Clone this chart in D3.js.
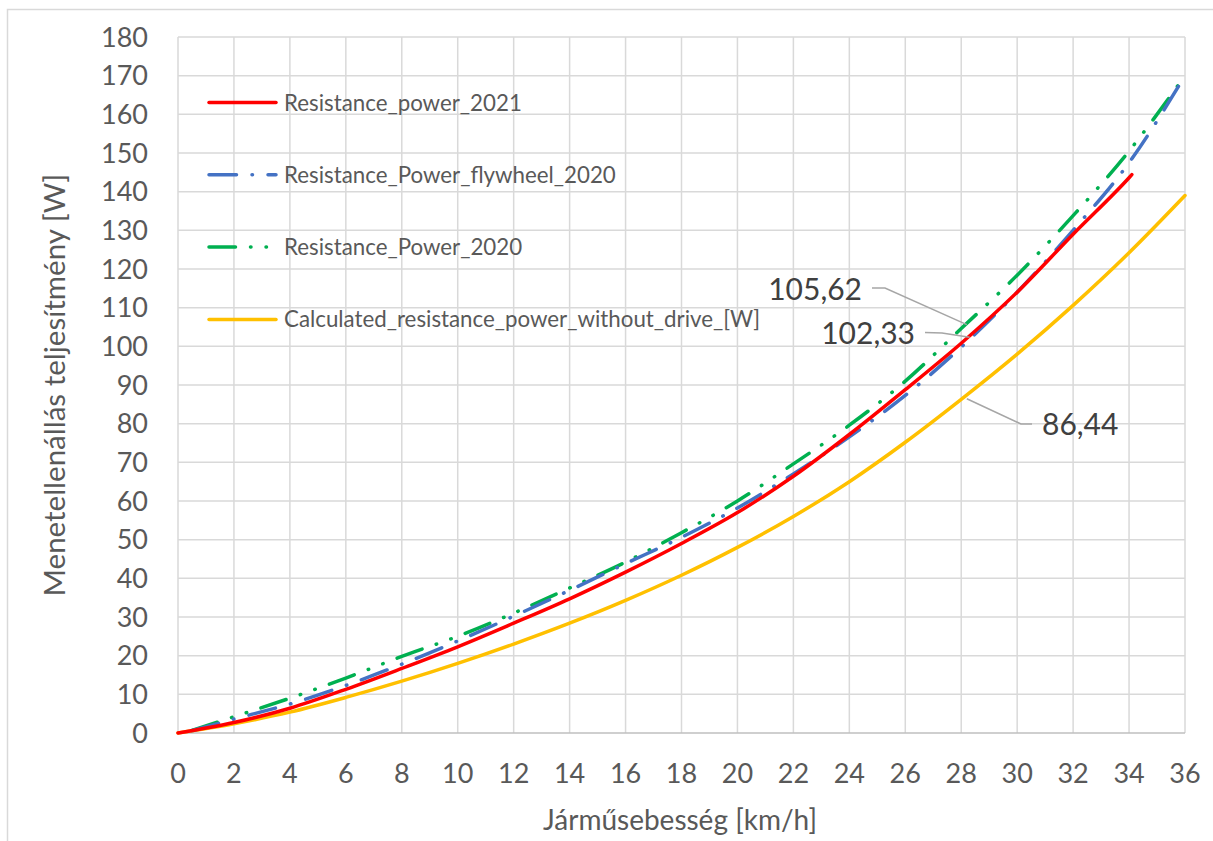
<!DOCTYPE html>
<html>
<head>
<meta charset="utf-8">
<script src="https://cdn.jsdelivr.net/npm/d3@7"></script>
<style>
  body { margin: 0; background: #fff; }
  text { font-family: Lato, "Open Sans", sans-serif; fill: #595959; }
</style>
</head>
<body>
<div id="chart"></div>
<script>
// speeds (km/h) and powers (W)
const xRed = [0, 2, 4, 6, 8, 10, 12, 14, 16, 18, 20, 22, 24, 26, 28, 30, 32, 34, 34.1];
const yRed = [0, 2.7, 6.4, 11.3, 16.7, 22.3, 28.4, 34.7, 41.6, 49, 57, 66.4, 77.2, 88.8, 100.8, 114, 129, 143.6, 144.4];

const xBlue = [0.5, 2, 4, 6, 8, 10, 12, 14, 16, 18, 20, 22, 24, 26, 28, 30, 32, 34, 36];
const yBlue = [0.6, 3.6, 7.5, 12.3, 17.8, 23.8, 30.2, 36.9, 43.8, 50.6, 58.2, 67, 76.6, 87.3, 99.8, 114, 130, 147.5, 170];

const xGreen = [0.5, 2, 4, 6, 8, 10, 12, 14, 16, 18, 20, 22, 24, 26, 28, 30, 32, 34, 36];
const yGreen = [0.7, 4.2, 9, 14.2, 19.8, 25, 31, 37.5, 44.2, 51.8, 60, 69.6, 79.6, 91, 104.6, 118.4, 133.8, 150.5, 170];

const xYellow = [0, 2, 4, 6, 8, 10, 12, 14, 16, 18, 20, 22, 24, 26, 28, 30, 32, 34, 36];
const yYellow = [0, 2.4, 5.4, 9.2, 13.4, 18, 23, 28.4, 34.3, 40.8, 48, 56, 65, 75.2, 86.3, 98, 110.6, 124.2, 139];

const seriesNames = ["Resistance_power_2021", "Resistance_Power_flywheel_2020", "Resistance_Power_2020", "Calculated_resistance_power_without_drive_[W]"];

const xTicks = d3.range(0, 37, 2);
const yTicks = d3.range(0, 181, 10);

// labelled points
const labels = [
  { x: 28.2, y: 105.62, text: "105,62" },
  { x: 28.3, y: 102.33, text: "102,33" },
  { x: 28.2, y: 86.44, text: "86,44" }
];

const W = 1213, H = 841;
const svg = d3.select("#chart").append("svg")
  .attr("width", W).attr("height", H);

// chart border
svg.append("rect")
  .attr("x", 7.5).attr("y", 9.5)
  .attr("width", 1210).attr("height", 840)
  .attr("fill", "none").attr("stroke", "#d9d9d9").attr("stroke-width", 1.5);

const x = d3.scaleLinear().domain([0, 36]).range([178, 1185]);
const y = d3.scaleLinear().domain([0, 180]).range([733, 37]);

// gridlines
svg.append("g").selectAll("line")
  .data(xTicks)
  .enter().append("line")
  .attr("x1", d => x(d)).attr("x2", d => x(d))
  .attr("y1", y(180)).attr("y2", y(0))
  .attr("stroke", "#d9d9d9").attr("stroke-width", 1.5);

svg.append("g").selectAll("line")
  .data(yTicks)
  .enter().append("line")
  .attr("x1", x(0)).attr("x2", x(36))
  .attr("y1", d => y(d)).attr("y2", d => y(d))
  .attr("stroke", d => d === 0 ? "#bfbfbf" : "#d9d9d9").attr("stroke-width", 1.5);

// tick labels
svg.append("g").selectAll("text")
  .data(yTicks)
  .enter().append("text")
  .attr("x", 148).attr("y", d => y(d))
  .attr("dy", "0.36em")
  .attr("text-anchor", "end")
  .style("font-size", "27px")
  .text(d => d);

svg.append("g").selectAll("text")
  .data(xTicks)
  .enter().append("text")
  .attr("x", d => x(d)).attr("y", 783)
  .attr("text-anchor", "middle")
  .style("font-size", "27px")
  .text(d => d);

// axis titles
svg.append("text")
  .attr("x", 680).attr("y", 830)
  .attr("text-anchor", "middle")
  .style("font-size", "28px")
  .text("Járműsebesség [km/h]");

svg.append("text")
  .attr("transform", "translate(65," + 385 + ") rotate(-90)")
  .attr("text-anchor", "middle")
  .style("font-size", "29.5px")
  .text("Menetellenállás teljesítmény [W]");

// series
const line = d3.line()
  .x(d => x(d[0]))
  .y(d => y(d[1]))
  .curve(d3.curveMonotoneX);

const zip = (a, b) => a.map((v, i) => [v, b[i]]);

const series = [
  { name: seriesNames[0], pts: zip(xRed, yRed), color: "#ff0000", dash: null },
  { name: seriesNames[1], pts: zip(xBlue, yBlue), color: "#4472c4", dash: "27.5 15.5 0.5 15.5" },
  { name: seriesNames[2], pts: zip(xGreen, yGreen), color: "#00b050", dash: "26.5 15 0.5 15 0.5 15" },
  { name: seriesNames[3], pts: zip(xYellow, yYellow), color: "#ffc000", dash: null }
];

// draw order: yellow first, then green, blue, red on top
const drawOrder = [3, 2, 1, 0];
svg.append("g").selectAll("path")
  .data(drawOrder.map(i => series[i]))
  .enter().append("path")
  .attr("d", d => line(d.pts))
  .attr("fill", "none")
  .attr("stroke", d => d.color)
  .attr("stroke-width", 3.5)
  .attr("stroke-linecap", "round")
  .attr("stroke-dasharray", d => d.dash);

// legend
const legend = svg.append("g").selectAll("g")
  .data(series)
  .enter().append("g")
  .attr("transform", (d, i) => "translate(208," + (102.5 + i * 72.3) + ")");

legend.append("line")
  .attr("x1", 1).attr("x2", 68)
  .attr("stroke", d => d.color)
  .attr("stroke-width", 3.5)
  .attr("stroke-linecap", "round")
  .attr("stroke-dasharray", d => d.dash);

legend.append("text")
  .attr("x", 76).attr("dy", "0.36em")
  .style("font-size", "22.3px")
  .text(d => d.name);

// data labels with leader lines
const leaders = [
  [[872, 288], [885, 288], [x(labels[0].x), y(labels[0].y)]],
  [[925, 332.5], [942, 333], [x(labels[1].x), y(labels[1].y)]],
  [[1032, 424], [1021, 424], [x(labels[2].x), y(labels[2].y)]]
];
svg.append("g").selectAll("path")
  .data(leaders)
  .enter().append("path")
  .attr("d", d => d3.line()(d))
  .attr("fill", "none")
  .attr("stroke", "#a6a6a6")
  .attr("stroke-width", 1.5);

const labelPos = [[862, 300], [915, 344], [1042, 435]];
const labelAnchor = ["end", "end", "start"];
svg.append("g").selectAll("text")
  .data(labels)
  .enter().append("text")
  .attr("x", (d, i) => labelPos[i][0])
  .attr("y", (d, i) => labelPos[i][1])
  .attr("text-anchor", (d, i) => labelAnchor[i])
  .style("font-size", "30px")
  .style("fill", "#404040")
  .text(d => d.text);
</script>
</body>
</html>
